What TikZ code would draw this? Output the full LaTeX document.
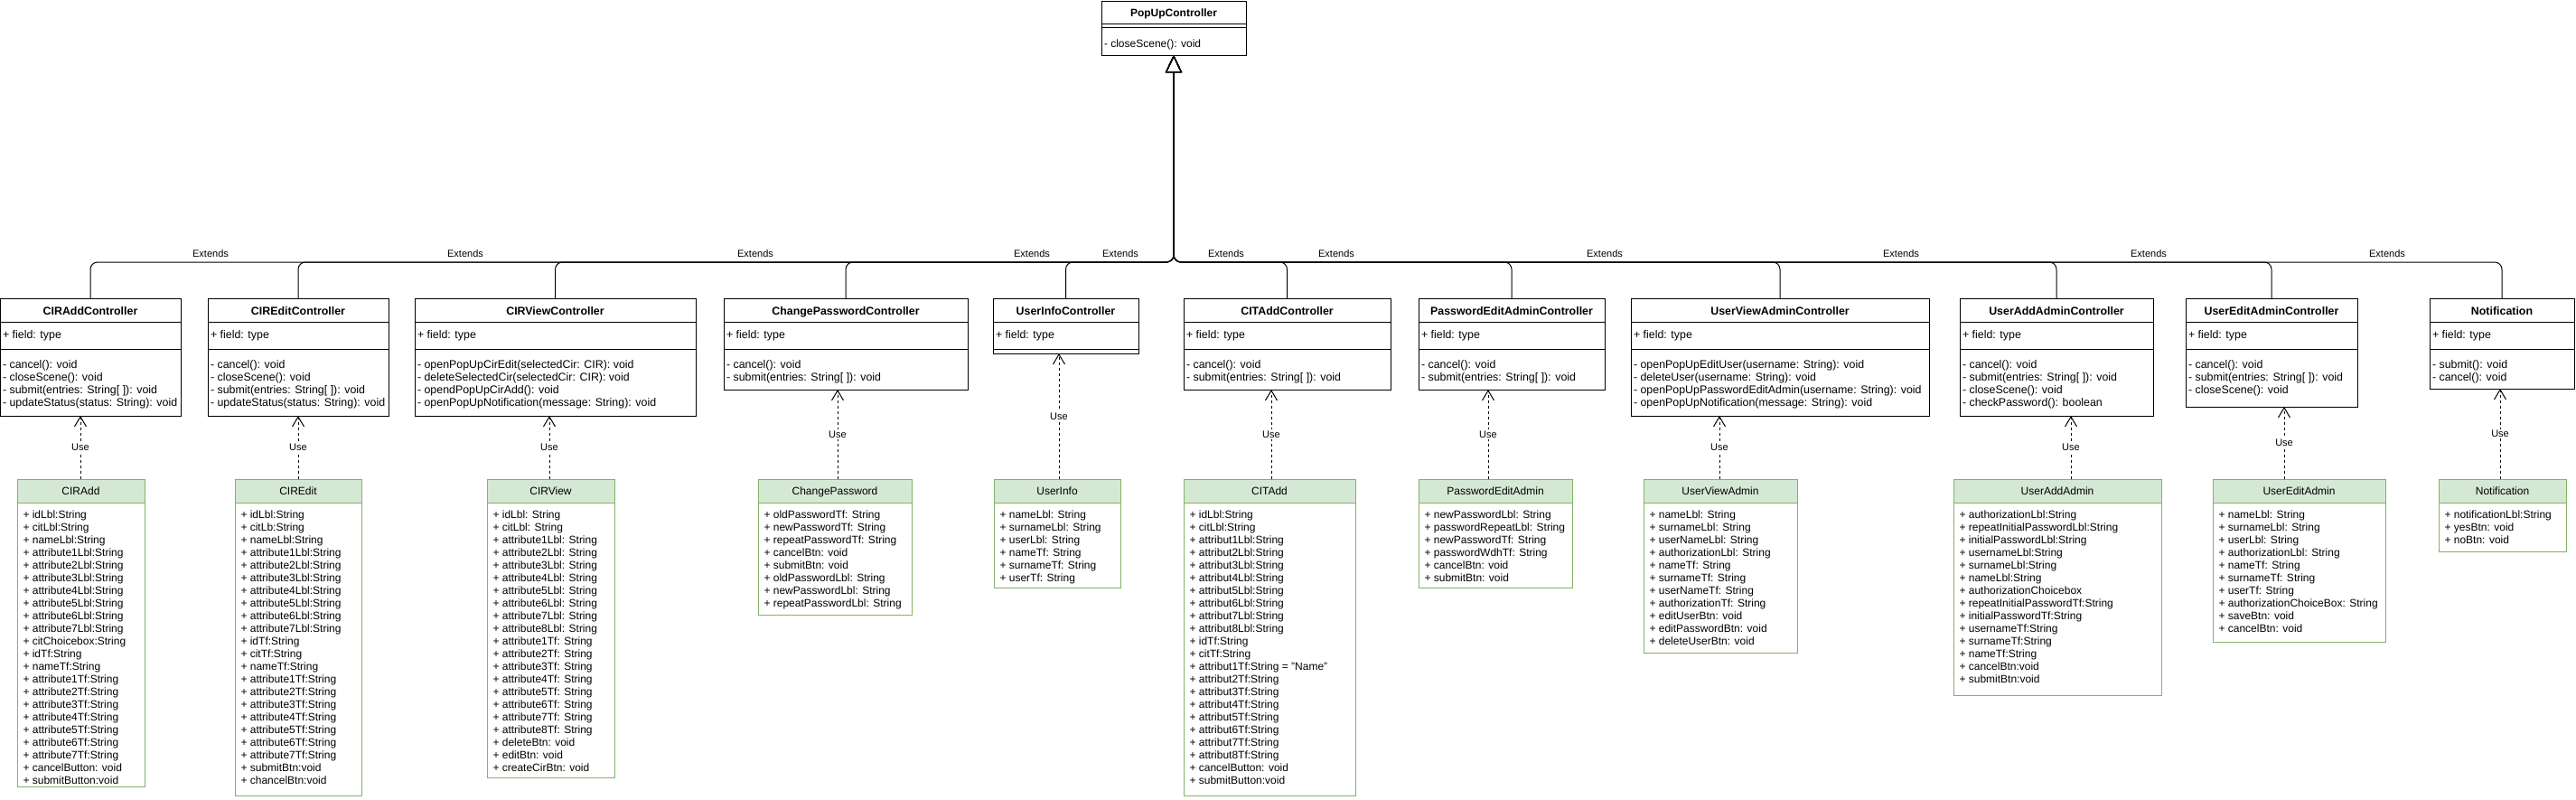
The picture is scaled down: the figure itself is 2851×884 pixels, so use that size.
\documentclass[tikz,border=0pt]{standalone}
\usepackage{fontspec}
\setmainfont{Liberation Sans}
\usetikzlibrary{arrows.meta}
\definecolor{gfill}{HTML}{D5E8D4}
\definecolor{gborder}{HTML}{82B366}
\tikzset{
  every node/.style={inner sep=0pt, outer sep=0pt},
  box/.style={draw=black, line width=1pt},
  gbox/.style={draw=gborder, line width=1pt},
  ghead/.style={draw=gborder, fill=gfill, line width=1pt},
  sepline/.style={draw=black, line width=1pt},
  ctitle/.style={font=\fontsize{12.4}{14}\selectfont\bfseries, anchor=base},
  crow/.style={font=\fontsize{12.4}{14}\selectfont, anchor=base west},
  ptitle/.style={font=\fontsize{12}{14}\selectfont\bfseries, anchor=base},
  prow/.style={font=\fontsize{12}{14}\selectfont, anchor=base west},
  gtitle/.style={font=\fontsize{12}{14}\selectfont, anchor=base},
  grnrow/.style={font=\fontsize{12}{14}\selectfont, anchor=base west},
  lbl/.style={font=\fontsize{11}{13}\selectfont},
  ulbl/.style={font=\fontsize{11}{13}\selectfont, fill=white, inner sep=1.5pt},
  ext/.style={draw=black, line width=1pt, rounded corners=8pt, -{Triangle[open, width=18pt, length=19pt]}},
  usearrow/.style={draw=black, line width=1pt, dash pattern=on 3pt off 3pt, -{Straight Barb[length=11pt, width=13pt]}},
}
% controller box: name, left, right, bottom, title, methods
\newcommand\ctrlbox[6]{%
  \node[box, minimum width={#3-#2}, minimum height={#4-330}, anchor=north west] (#1) at (#2,330) {};
  \draw[sepline] (#2,356) -- (#3,356);
  \draw[sepline] (#2,386) -- (#3,386);
  \node[ctitle] (#1t) at ({(#2+#3)/2},348) {#5};
  \node[crow] (#1f) at (#2+3,374) {+ field: type};
  \foreach \m [count=\i] in {#6} {\node[crow] (#1m\i) at (#2+3,{407+14.3*(\i-1)}) {\m};}
}
% green class box: name, left, right, bottom, title, rows
\newcommand\greenbox[6]{%
  \node[gbox, minimum width={#3-#2}, minimum height={#4-530}, anchor=north west] (#1) at (#2,530) {};
  \draw[ghead] (#2,530) rectangle (#3,556);
  \node[gtitle] (#1t) at ({(#2+#3)/2},547.5) {#5};
  \foreach \r [count=\i] in {#6} {\node[grnrow] (#1r\i) at (#2+6.5,{573+14*(\i-1)}) {\r};}
}
\begin{document}
\begin{tikzpicture}[x=1pt,y=-1pt]
\useasboundingbox (0,0) rectangle (2851,884);
\fill[white] (0,0) rectangle (2851,884);

% PopUpController
\node[box, minimum width=160, minimum height=60, anchor=north west] (pop) at (1219,1) {};
\draw[sepline] (1219,26) -- (1379,26);
\draw[sepline] (1219,30) -- (1379,30);
\node[ptitle] (popt) at (1299,18) {PopUpController};
\node[prow] (popm1) at (1222,52) {- closeScene(): void};

% Controllers
\ctrlbox{c1}{0}{200}{460}{CIRAddController}{- cancel(): void, - closeScene(): void, - submit(entries: String[ ]): void, - updateStatus(status: String): void}
\ctrlbox{c2}{230}{430}{460}{CIREditController}{- cancel(): void, - closeScene(): void, - submit(entries: String[ ]): void, - updateStatus(status: String): void}
\ctrlbox{c3}{459}{770}{460}{CIRViewController}{- openPopUpCirEdit(selectedCir: CIR): void, - deleteSelectedCir(selectedCir: CIR): void, - opendPopUpCirAdd(): void, - openPopUpNotification(message: String): void}
\ctrlbox{c4}{801}{1071}{431}{ChangePasswordController}{- cancel(): void, - submit(entries: String[ ]): void}
% UserInfoController (no methods)
\node[box, minimum width=161, minimum height=61, anchor=north west] (c5) at (1099,330) {};
\draw[sepline] (1099,356) -- (1260,356);
\draw[sepline] (1099,386) -- (1260,386);
\node[ctitle] (c5t) at (1179.5,348) {UserInfoController};
\node[crow] (c5f) at (1102,374) {+ field: type};
\ctrlbox{c6}{1310}{1539}{431}{CITAddController}{- cancel(): void, - submit(entries: String[ ]): void}
\ctrlbox{c7}{1570}{1776}{431}{PasswordEditAdminController}{- cancel(): void, - submit(entries: String[ ]): void}
\ctrlbox{c8}{1805}{2135}{460}{UserViewAdminController}{- openPopUpEditUser(username: String): void, - deleteUser(username: String): void, - openPopUpPasswordEditAdmin(username: String): void, - openPopUpNotification(message: String): void}
\ctrlbox{c9}{2169}{2383}{460}{UserAddAdminController}{- cancel(): void, - submit(entries: String[ ]): void, - closeScene(): void, - checkPassword(): boolean}
\ctrlbox{c10}{2419}{2609}{450}{UserEditAdminController}{- cancel(): void, - submit(entries: String[ ]): void, - closeScene(): void}
\ctrlbox{c11}{2689}{2849}{430}{Notification}{- submit(): void, - cancel(): void}

% Green classes
\greenbox{g1}{19}{160}{870}{CIRAdd}{+ idLbl:String, + citLbl:String, + nameLbl:String, + attribute1Lbl:String, + attribute2Lbl:String, + attribute3Lbl:String, + attribute4Lbl:String, + attribute5Lbl:String, + attribute6Lbl:String, + attribute7Lbl:String, + citChoicebox:String, + idTf:String, + nameTf:String, + attribute1Tf:String, + attribute2Tf:String, + attribute3Tf:String, + attribute4Tf:String, + attribute5Tf:String, + attribute6Tf:String, + attribute7Tf:String, + cancelButton: void, + submitButton:void}
\greenbox{g2}{260}{400}{880}{CIREdit}{+ idLbl:String, + citLb:String, + nameLbl:String, + attribute1Lbl:String, + attribute2Lbl:String, + attribute3Lbl:String, + attribute4Lbl:String, + attribute5Lbl:String, + attribute6Lbl:String, + attribute7Lbl:String, + idTf:String, + citTf:String, + nameTf:String, + attribute1Tf:String, + attribute2Tf:String, + attribute3Tf:String, + attribute4Tf:String, + attribute5Tf:String, + attribute6Tf:String, + attribute7Tf:String, + submitBtn:void, + chancelBtn:void}
\greenbox{g3}{539}{680}{860}{CIRView}{+ idLbl: String, + citLbl: String, + attribute1Lbl: String, + attribute2Lbl: String, + attribute3Lbl: String, + attribute4Lbl: String, + attribute5Lbl: String, + attribute6Lbl: String, + attribute7Lbl: String, + attribute8Lbl: String, + attribute1Tf: String, + attribute2Tf: String, + attribute3Tf: String, + attribute4Tf: String, + attribute5Tf: String, + attribute6Tf: String, + attribute7Tf: String, + attribute8Tf: String, + deleteBtn: void, + editBtn: void, + createCirBtn: void}
\greenbox{g4}{839}{1009}{680}{ChangePassword}{+ oldPasswordTf: String, + newPasswordTf: String, + repeatPasswordTf: String, + cancelBtn: void, + submitBtn: void, + oldPasswordLbl: String, + newPasswordLbl: String, + repeatPasswordLbl: String}
\greenbox{g5}{1100}{1240}{650}{UserInfo}{+ nameLbl: String, + surnameLbl: String, + userLbl: String, + nameTf: String, + surnameTf: String, + userTf: String}
\greenbox{g6}{1310}{1500}{880}{CITAdd}{+ idLbl:String, + citLbl:String, + attribut1Lbl:String, + attribut2Lbl:String, + attribut3Lbl:String, + attribut4Lbl:String, + attribut5Lbl:String, + attribut6Lbl:String, + attribut7Lbl:String, + attribut8Lbl:String, + idTf:String, + citTf:String, + attribut1Tf:String = "Name", + attribut2Tf:String, + attribut3Tf:String, + attribut4Tf:String, + attribut5Tf:String, + attribut6Tf:String, + attribut7Tf:String, + attribut8Tf:String, + cancelButton: void, + submitButton:void}
\greenbox{g7}{1570}{1740}{650}{PasswordEditAdmin}{+ newPasswordLbl: String, + passwordRepeatLbl: String, + newPasswordTf: String, + passwordWdhTf: String, + cancelBtn: void, + submitBtn: void}
\greenbox{g8}{1819}{1989}{722}{UserViewAdmin}{+ nameLbl: String, + surnameLbl: String, + userNameLbl: String, + authorizationLbl: String, + nameTf: String, + surnameTf: String, + userNameTf: String, + authorizationTf: String, + editUserBtn: void, + editPasswordBtn: void, + deleteUserBtn: void}
\greenbox{g9}{2162}{2392}{769}{UserAddAdmin}{+ authorizationLbl:String, + repeatInitialPasswordLbl:String, + initialPasswordLbl:String, + usernameLbl:String, + surnameLbl:String, + nameLbl:String, + authorizationChoicebox, + repeatInitialPasswordTf:String, + initialPasswordTf:String, + usernameTf:String, + surnameTf:String, + nameTf:String, + cancelBtn:void, + submitBtn:void}
\greenbox{g10}{2449}{2640}{710}{UserEditAdmin}{+ nameLbl: String, + surnameLbl: String, + userLbl: String, + authorizationLbl: String, + nameTf: String, + surnameTf: String, + userTf: String, + authorizationChoiceBox: String, + saveBtn: void, + cancelBtn: void}
\greenbox{g11}{2699}{2840}{610}{Notification}{+ notificationLbl:String, + yesBtn: void, + noBtn: void}

% Extends connectors
\coordinate (bus) at (0,290);
\coordinate (popbus) at (pop.south |- bus);
\foreach \c in {c1,c2,c3,c4,c5,c6,c7,c8,c9,c10,c11}
  {\draw[ext] (\c.north) |- (popbus) -- (pop.south);}
\foreach \x [count=\i] in {233,515,836,1142,1240,1357,1479,1776,2104,2378,2642}
  {\node[lbl] (ext\i) at (\x,281) {Extends};}

% Use connectors
\foreach \x [count=\i] in {89,330,608,927,1172,1407,1647,1903,2292,2528,2767}
  {\coordinate (u\i) at (\x,0);}
\foreach \i in {1,...,11}
  {\draw[usearrow] (g\i.north -| u\i) -- node[ulbl] (use\i) {Use} (c\i.south -| u\i);}
\end{tikzpicture}
\end{document}
